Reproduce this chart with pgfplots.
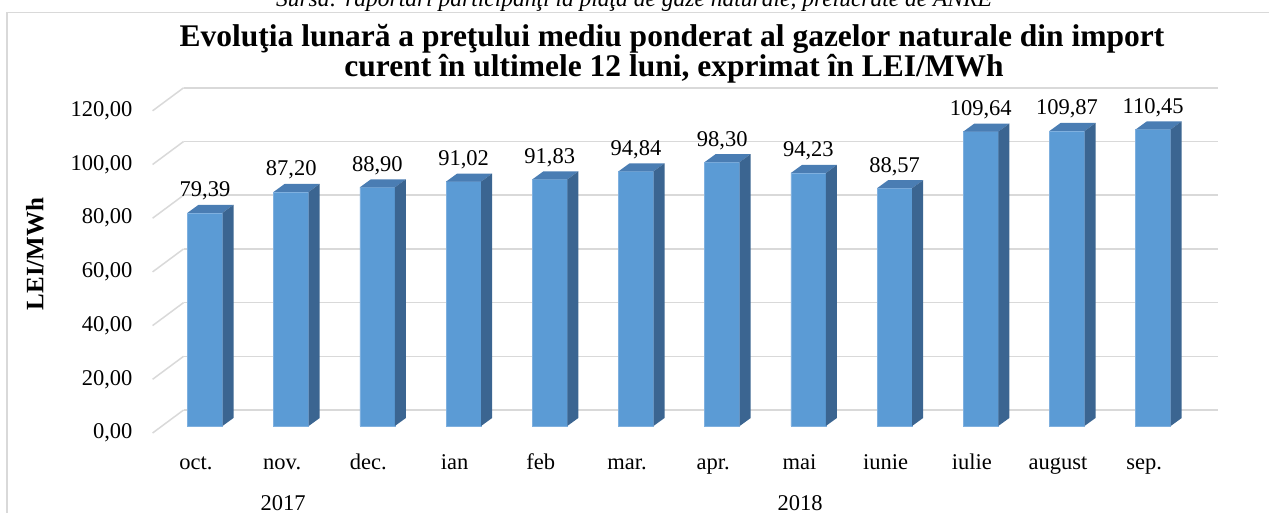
\documentclass[border=0pt]{standalone}
\usepackage{fontspec}
\setmainfont{Liberation Serif}
\usepackage{pgfplots}
\pgfplotsset{compat=1.18}
\definecolor{gridc}{HTML}{D9D9D9}
\definecolor{barFront}{HTML}{5B9BD5}
\definecolor{barTop}{HTML}{4A7DB3}
\definecolor{barSide}{HTML}{3B6591}
\definecolor{barEdge}{HTML}{7FB0DF}
\newcommand\lbl{\fontsize{22.5}{27}\selectfont}
\pgfdeclareplotmark{bar3d}{%
  \pgfmathsetlengthmacro\barh{\barval*2.685pt}%
  \pgfsetfillcolor{barTop}%
  \pgfpathmoveto{\pgfpoint{-17.5pt}{0pt}}%
  \pgfpathlineto{\pgfpoint{17.5pt}{0pt}}%
  \pgfpathlineto{\pgfpoint{28.5pt}{8pt}}%
  \pgfpathlineto{\pgfpoint{-6.5pt}{8pt}}%
  \pgfpathclose
  \pgfusepath{fill}%
  \pgfsetfillcolor{barSide}%
  \pgfpathmoveto{\pgfpoint{17.5pt}{0pt}}%
  \pgfpathlineto{\pgfpoint{28.5pt}{8pt}}%
  \pgfpathlineto{\pgfpoint{28.5pt}{8pt-\barh}}%
  \pgfpathlineto{\pgfpoint{17.5pt}{-\barh}}%
  \pgfpathclose
  \pgfusepath{fill}%
}
\begin{document}
\begin{tikzpicture}
\useasboundingbox (0,0) rectangle (1269pt,513pt);
\clip (0,0) rectangle (1269pt,513pt);
\draw[gridc, line width=1.5pt] (7pt,-10pt) -- (7pt,500.5pt) -- (1290pt,500.5pt);
\node[anchor=base, font=\itshape\fontsize{23.5}{28}\selectfont, inner sep=0pt] at (634pt,506pt) {Sursa: raportări participanţi la piaţa de gaze naturale, prelucrate de ANRE};
\node[anchor=base, font=\bfseries\fontsize{31.5}{36}\selectfont, inner sep=0pt] at (672pt,466.3pt) {Evoluţia lunară a preţului mediu ponderat al gazelor naturale din import};
\node[anchor=base, font=\bfseries\fontsize{31.5}{36}\selectfont, inner sep=0pt] at (674pt,436.3pt) {curent în ultimele 12 luni, exprimat în LEI/MWh};
\node[rotate=90, font=\bfseries\fontsize{25}{30}\selectfont, inner sep=0pt] at (35pt,259pt) {LEI/MWh};
\node[anchor=base, font=\lbl, inner sep=0pt] at (283pt,2pt) {2017};
\node[anchor=base, font=\lbl, inner sep=0pt] at (800pt,2pt) {2018};
% back wall: grid and value axis
\begin{axis}[at={(183.6pt,103pt)}, anchor=south west,
  x=86.2pt, y=2.685pt, xmin=-0.5, xmax=11.5, ymin=0, ymax=120,
  ytick={0,20,...,120}, xtick=\empty, ymajorgrids,
  grid style={gridc, line width=1.5pt},
  axis line style={draw=none}, major tick length=0pt, clip=false,
  yticklabel style={anchor=east, inner sep=0pt, xshift=-51pt, yshift=-23pt, font=\lbl,
    /pgf/number format/.cd, fixed, fixed zerofill, precision=2, use comma, assume math mode=true}]
\pgfplotsinvokeforeach{0,20,40,60,80,100,120}{
  \draw[gridc, line width=1.5pt] (axis cs:-0.5,#1) -- ++(-31pt,-23pt);
}
\end{axis}
% bars
\begin{axis}[at={(161.9pt,87pt)}, anchor=south west,
  x=86.2pt, y=2.685pt, xmin=-0.5, xmax=11.5, ymin=0, ymax=120,
  axis line style={draw=none}, ytick=\empty,
  xtick={0,...,11},
  xticklabels={oct.,nov.,dec.,ian,feb,mar.,apr.,mai,iunie,iulie,august,sep.},
  major tick length=0pt, clip=false,
  xticklabel style={anchor=base, inner sep=0pt, yshift=-44pt, xshift=-9pt, font=\lbl}]
\addplot[ybar, bar width=35pt, fill=barFront, draw=barEdge, line width=0.6pt,
  nodes near coords,
  every node near coord/.append style={anchor=base, inner sep=0pt, yshift=16pt, font=\lbl,
    /pgf/number format/.cd, fixed, fixed zerofill, precision=2, use comma, assume math mode=true}]
  coordinates {(0,79.39) (1,87.20) (2,88.90) (3,91.02) (4,91.83) (5,94.84)
               (6,98.30) (7,94.23) (8,88.57) (9,109.64) (10,109.87) (11,110.45)};
\addplot[only marks, mark=bar3d, visualization depends on={rawy \as \barval}]
  coordinates {(0,79.39) (1,87.20) (2,88.90) (3,91.02) (4,91.83) (5,94.84)
               (6,98.30) (7,94.23) (8,88.57) (9,109.64) (10,109.87) (11,110.45)};
\end{axis}
\end{tikzpicture}
\end{document}
